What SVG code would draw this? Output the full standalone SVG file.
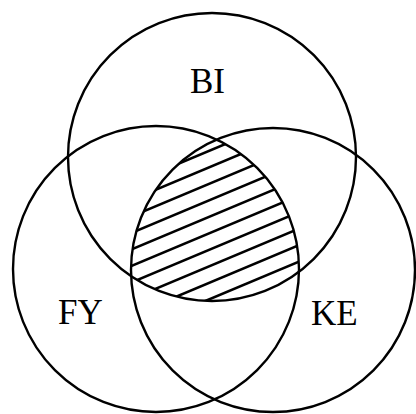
<svg xmlns="http://www.w3.org/2000/svg" width="416" height="414" viewBox="0 0 416 414">
<style>
.c{fill:none;stroke:#000;stroke-width:2.4}
.h{stroke:#000;stroke-width:2.6}
.t{font-family:"Liberation Serif","Times New Roman",serif;font-size:35px;fill:#000}
</style>
<defs>
<clipPath id="cBI"><circle cx="212" cy="157" r="144"/></clipPath>
<clipPath id="cFY"><circle cx="156" cy="269" r="143"/></clipPath>
<clipPath id="cKE"><circle cx="273" cy="270" r="142"/></clipPath>
</defs>
<rect width="416" height="414" fill="#fff"/>
<g id="hatch" clip-path="url(#cFY)"><g clip-path="url(#cKE)"><g clip-path="url(#cBI)">
<line class="h" x1="100" y1="345.2" x2="320" y2="252.8"/>
<line class="h" x1="100" y1="328.7" x2="320" y2="236.3"/>
<line class="h" x1="100" y1="312.2" x2="320" y2="219.8"/>
<line class="h" x1="100" y1="295.7" x2="320" y2="203.3"/>
<line class="h" x1="100" y1="279.2" x2="320" y2="186.8"/>
<line class="h" x1="100" y1="262.7" x2="320" y2="170.3"/>
<line class="h" x1="100" y1="246.2" x2="320" y2="153.8"/>
<line class="h" x1="100" y1="229.7" x2="320" y2="137.3"/>
<line class="h" x1="100" y1="213.2" x2="320" y2="120.8"/>
<line class="h" x1="100" y1="196.7" x2="320" y2="104.3"/>
</g></g></g>
<g id="BI"><circle class="c" cx="212" cy="157" r="144"/><text class="t" x="190" y="93">BI</text></g>
<g id="FY"><circle class="c" cx="156" cy="269" r="143"/><text class="t" x="58" y="324">FY</text></g>
<g id="KE"><circle class="c" cx="273" cy="270" r="142"/><text class="t" x="311" y="325">KE</text></g>
</svg>
